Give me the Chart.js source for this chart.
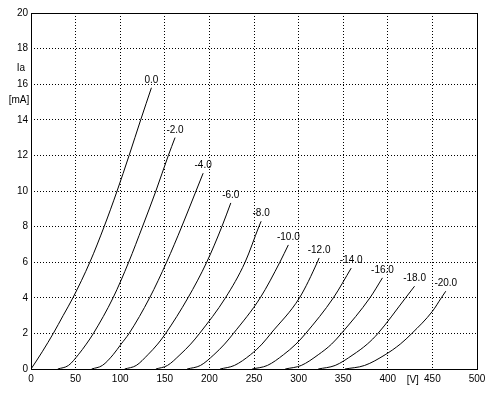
<!DOCTYPE html>
<html>
<head>
<meta charset="utf-8">
<script src="https://cdn.jsdelivr.net/npm/chart.js@4.4.1/dist/chart.umd.min.js"></script>
<style>
  html, body { margin: 0; padding: 0; background: #fff; }
  #wrap { width: 500px; height: 396px; }
</style>
</head>
<body>
<div id="wrap"><canvas id="chart" width="500" height="396"></canvas></div>
<script>
// Triode plate curves: Ia [mA] vs Va [V], one curve per grid voltage

// ── data (Va [V], Ia [mA]) ───────────────────────────────────────────────────
const gridLabels = ['0.0', '-2.0', '-4.0', '-6.0', '-8.0', '-10.0', '-12.0', '-14.0', '-16.0', '-18.0', '-20.0'];

const curveG0   = [[0, 0], [6, 0.45], [13, 1], [25, 2], [36, 3], [47, 4], [66, 6], [82, 8], [96.5, 10], [110, 12], [123, 14], [135, 15.8]];
const curveG2   = [[30, 0], [42, 0.2], [53, 0.8], [62, 1.4], [70, 2], [92, 4], [109.5, 6], [125, 8], [140, 10], [154, 12], [161.5, 13]];
const curveG4   = [[68, 0], [80, 0.2], [92, 0.8], [101, 1.4], [110, 2], [133, 4], [152, 6], [169, 8], [185, 10], [193, 11]];
const curveG6   = [[105, 0], [118, 0.2], [131, 0.8], [142, 1.4], [151, 2], [176, 4], [197, 6], [214, 8], [224, 9.33]];
const curveG8   = [[140, 0], [153, 0.2], [167, 0.8], [179, 1.4], [189, 2], [218, 4], [240, 6], [255.5, 8], [258, 8.3]];
const curveG10  = [[175, 0], [190, 0.2], [205, 0.8], [217, 1.4], [227, 2], [257, 4], [279, 6], [288.5, 6.97]];
const curveG12  = [[212, 0], [228, 0.2], [246, 0.8], [259, 1.4], [269, 2], [301, 4], [321, 6], [323, 6.24]];
const curveG14  = [[248, 0], [265, 0.2], [283, 0.8], [297, 1.4], [308, 2], [339, 4], [359, 5.67]];
const curveG16  = [[285, 0], [303, 0.2], [322, 0.8], [337, 1.4], [348, 2], [380, 4], [394, 5.12]];
const curveG18  = [[322, 0], [341, 0.2], [361, 0.8], [377, 1.4], [389, 2], [420, 4], [430, 4.65]];
const curveG20  = [[352, 0], [374, 0.2], [397, 0.8], [414, 1.4], [427, 2], [450, 3.24], [460, 4], [465, 4.37]];

const curves = [curveG0, curveG2, curveG4, curveG6, curveG8, curveG10, curveG12, curveG14, curveG16, curveG18, curveG20];

const xTickStep = 50;   // 0 … 500 V
const yTickStep = 2;    // 0 … 20 mA

const FONT = { family: "'Liberation Sans', Arial, sans-serif", size: 10 };

// ── plugins ───────────────────────────────────────────────────────────────────
// solid frame round the plot + unit labels
const framePlugin = {
    id: 'frame',
    afterDraw(chart) {
        const { ctx, chartArea: a } = chart;
        ctx.save();
        ctx.strokeStyle = '#000';
        ctx.lineWidth = 1;
        ctx.setLineDash([]);
        ctx.strokeRect(Math.round(a.left) + 0.5, Math.round(a.top) + 0.5,
            Math.round(a.right - a.left), Math.round(a.bottom - a.top));
        ctx.fillStyle = '#000';
        ctx.font = `${FONT.size}px ${FONT.family}`;
        ctx.textAlign = 'center';
        ctx.textBaseline = 'middle';
        ctx.fillText('Ia', 21, 68);
        ctx.fillText('[mA]', 19, 100);
        ctx.fillText('[V]', chart.scales.x.getPixelForValue(428), a.bottom + 11);
        ctx.restore();
    }
};

// grid voltage written above the end of each curve
const curveLabelPlugin = {
    id: 'curveLabels',
    afterDatasetsDraw(chart) {
        const { ctx } = chart;
        ctx.save();
        ctx.fillStyle = '#000';
        ctx.font = `${FONT.size}px ${FONT.family}`;
        ctx.textAlign = 'center';
        ctx.textBaseline = 'alphabetic';
        chart.data.datasets.forEach((ds, i) => {
            const pts = chart.getDatasetMeta(i).data;
            const last = pts[pts.length - 1];
            ctx.fillText(ds.label, last.x, last.y - 5);
        });
        ctx.restore();
    }
};

// ── chart ─────────────────────────────────────────────────────────────────────
const datasets = curves.map((c, i) => ({
    label: gridLabels[i],
    data: c.map(([x, y]) => ({ x, y })),
    borderColor: '#000',
    borderWidth: 1,
    pointRadius: 0,
    fill: false,
    cubicInterpolationMode: 'monotone'
}));

new Chart(document.getElementById('chart').getContext('2d'), {
    type: 'line',
    data: { datasets },
    options: {
        responsive: false,
        animation: false,
        layout: { padding: { top: 13, right: 23, left: 0, bottom: 0 } },
        plugins: { legend: { display: false }, tooltip: { enabled: false } },
        scales: {
            x: {
                type: 'linear', min: 0, max: 500,
                ticks: { stepSize: xTickStep, color: '#000', font: FONT, padding: 4, maxRotation: 0 },
                grid: { color: '#000', lineWidth: 1, drawTicks: false },
                border: { display: false, dash: [1, 2] },
                afterFit: s => { s.height = 27; }
            },
            y: {
                min: 0, max: 20,
                ticks: { stepSize: yTickStep, color: '#000', font: FONT, padding: 3 },
                grid: { color: '#000', lineWidth: 1, drawTicks: false },
                border: { display: false, dash: [1, 2] },
                afterFit: s => { s.width = 31; }
            }
        }
    },
    plugins: [framePlugin, curveLabelPlugin]
});
</script>
</body>
</html>
